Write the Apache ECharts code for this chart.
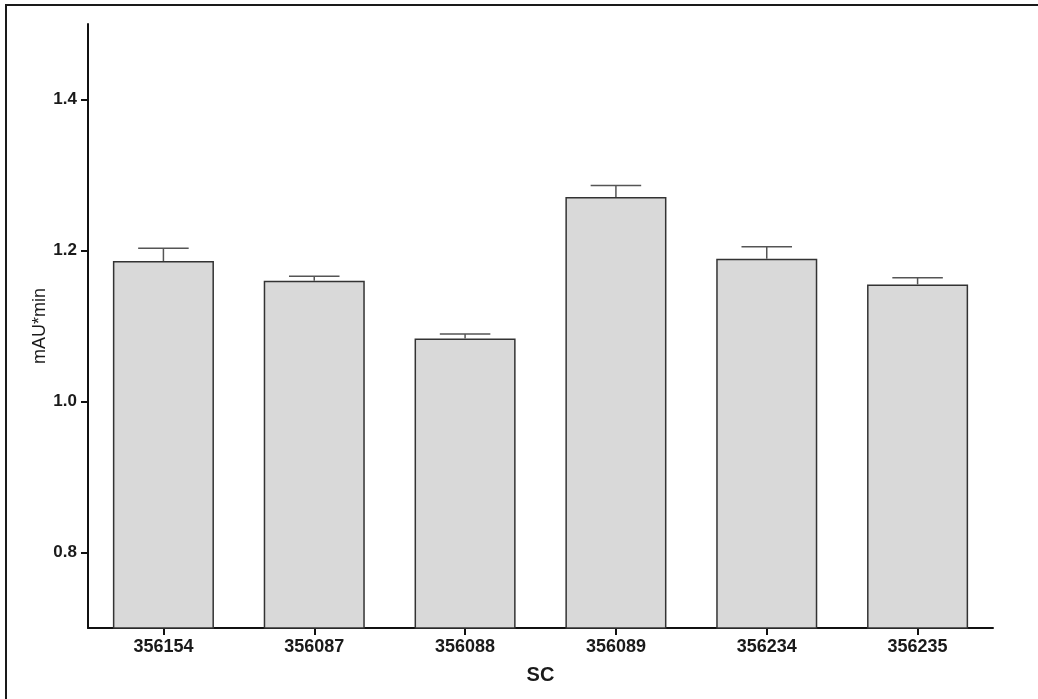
<!DOCTYPE html>
<html>
<head>
<meta charset="utf-8">
<script src="https://cdn.jsdelivr.net/npm/echarts@6/dist/echarts.min.js"></script>
<style>
html,body{margin:0;padding:0;background:#fff;}
#chart{width:1038px;height:699px;}
</style>
</head>
<body>
<div id="chart"></div>
<script>
const categories = ['356154', '356087', '356088', '356089', '356234', '356235'];
const means = [1.186, 1.160, 1.0835, 1.271, 1.189, 1.155];
const errors = [0.017, 0.006, 0.006, 0.015, 0.016, 0.009];
const yTicks = [0.8, 1.0, 1.2, 1.4];

const chart = echarts.init(document.getElementById('chart'));
const errData = categories.map((c, i) => [i, means[i], means[i] + errors[i]]);

const option = {
  backgroundColor: '#ffffff',
  animation: false,
  graphic: [{
    type: 'polyline',
    shape: { points: [[6, 705], [6, 5], [1045, 5]] },
    style: { stroke: '#1a1a1a', lineWidth: 2, fill: null },
    silent: true
  }],
  grid: { left: 88, right: 45, top: 24, bottom: 71 },
  xAxis: {
    type: 'category',
    data: categories,
    name: 'SC',
    nameLocation: 'middle',
    nameGap: 37,
    nameTextStyle: { fontFamily: 'Liberation Sans', fontWeight: 'bold', fontSize: 20, color: '#1a1a1a' },
    axisLine: { show: true, lineStyle: { color: '#111', width: 2 } },
    axisTick: { show: true, alignWithLabel: true, length: 7, lineStyle: { color: '#111', width: 2 } },
    axisLabel: { fontFamily: 'Liberation Sans', fontWeight: 'bold', fontSize: 18, color: '#1a1a1a', margin: 10 },
    splitLine: { show: false }
  },
  yAxis: {
    type: 'value',
    min: 0.7,
    max: 1.5,
    name: 'mAU*min',
    nameLocation: 'middle',
    nameGap: 39,
    nameMoveOverlap: false,
    nameRotate: 90,
    nameTextStyle: { fontFamily: 'Liberation Sans', fontSize: 18, color: '#1a1a1a' },
    axisLine: { show: true, lineStyle: { color: '#111', width: 2 } },
    axisTick: { show: true, length: 7, customValues: yTicks, lineStyle: { color: '#111', width: 2 } },
    axisLabel: {
      customValues: yTicks,
      formatter: v => Number(v).toFixed(1),
      fontFamily: 'Liberation Sans', fontWeight: 'bold', fontSize: 17, color: '#1a1a1a', margin: 11
    },
    splitLine: { show: false }
  },
  series: [
    {
      type: 'bar',
      data: means,
      barWidth: '67%',
      itemStyle: { color: '#d9d9d9', borderColor: '#333333', borderWidth: 1.5 },
      z: 2
    },
    {
      type: 'custom',
      data: errData,
      z: 3,
      renderItem: function (params, api) {
        const i = api.value(0);
        const lo = api.coord([i, api.value(1)]);
        const hi = api.coord([i, api.value(2)]);
        const bw = api.size([1, 0])[0] * 0.67;
        const half = bw / 4;
        const style = { stroke: '#555555', lineWidth: 1.5 };
        return {
          type: 'group',
          children: [
            { type: 'line', shape: { x1: lo[0], y1: lo[1], x2: hi[0], y2: hi[1] }, style: style },
            { type: 'line', shape: { x1: hi[0] - half, y1: hi[1], x2: hi[0] + half, y2: hi[1] }, style: style }
          ]
        };
      }
    }
  ]
};
chart.setOption(option);
</script>
</body>
</html>
